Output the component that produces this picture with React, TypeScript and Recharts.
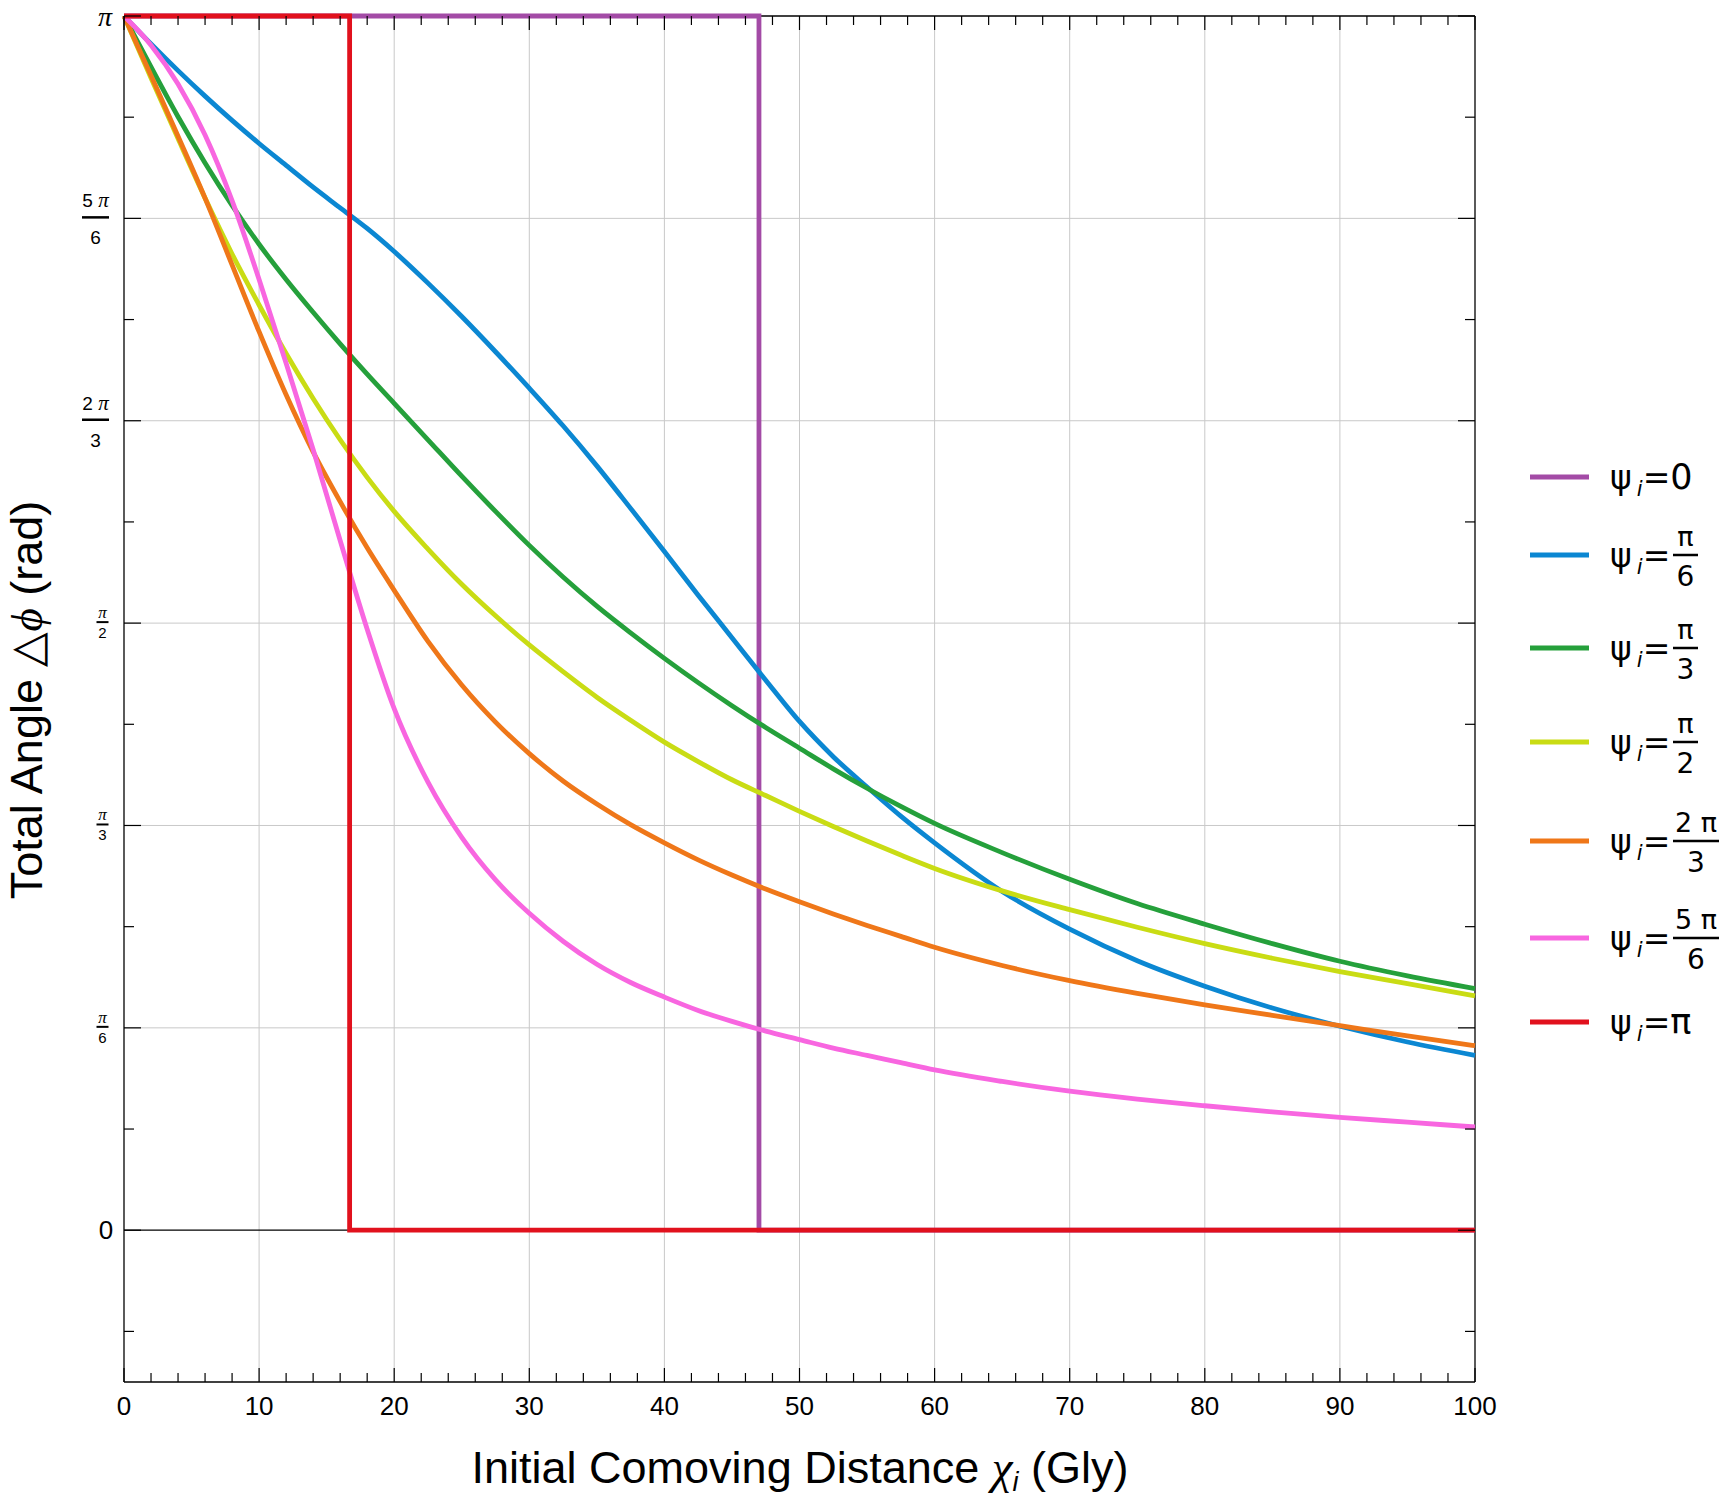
import { LineChart, Line, XAxis, YAxis, CartesianGrid, ReferenceLine } from 'recharts'

// initial comoving distance χ_i (Gly)
const chi = [0, 2, 4, 6, 8, 10, 12, 14, 16, 18, 20, 22.5, 25, 27.5, 30, 32.5, 35, 37.5, 40, 42.5, 45, 47.5, 50, 52.5, 55, 57.5, 60, 65, 70, 75, 80, 85, 90, 95, 100]

// total angle Δφ in units of π
const dphiPi6 = [1.0, 0.977, 0.955, 0.934, 0.914, 0.895, 0.877, 0.859, 0.842, 0.825, 0.806, 0.78, 0.7525, 0.7235, 0.6935, 0.6625, 0.6295, 0.5945, 0.559, 0.523, 0.488, 0.453, 0.419, 0.39, 0.365, 0.341, 0.319, 0.279, 0.248, 0.222, 0.201, 0.183, 0.168, 0.155, 0.144]
const dphiPi3 = [1.0, 0.958, 0.917, 0.879, 0.844, 0.812, 0.783, 0.756, 0.73, 0.705, 0.681, 0.651, 0.621, 0.592, 0.564, 0.538, 0.514, 0.492, 0.471, 0.451, 0.432, 0.414, 0.397, 0.38, 0.364, 0.349, 0.335, 0.311, 0.289, 0.269, 0.252, 0.236, 0.2215, 0.2095, 0.199]
const dphiPi2 = [1.0, 0.949, 0.899, 0.85, 0.804, 0.762, 0.722, 0.685, 0.651, 0.62, 0.592, 0.561, 0.532, 0.506, 0.482, 0.46, 0.439, 0.42, 0.402, 0.386, 0.371, 0.358, 0.345, 0.3325, 0.3205, 0.309, 0.298, 0.2795, 0.264, 0.2495, 0.236, 0.224, 0.213, 0.203, 0.193]
const dphi2Pi3 = [1.0, 0.951, 0.901, 0.85, 0.795, 0.74, 0.688, 0.641, 0.6, 0.562, 0.527, 0.485, 0.449, 0.4185, 0.3925, 0.37, 0.351, 0.334, 0.319, 0.305, 0.2925, 0.281, 0.2705, 0.2605, 0.251, 0.242, 0.233, 0.218, 0.2055, 0.195, 0.1855, 0.177, 0.1685, 0.16, 0.152]
const dphi5Pi6 = [1.0, 0.976, 0.944, 0.902, 0.848, 0.783, 0.714, 0.643, 0.568, 0.495, 0.4295, 0.369, 0.3235, 0.2885, 0.261, 0.238, 0.219, 0.204, 0.192, 0.181, 0.172, 0.164, 0.157, 0.15, 0.144, 0.138, 0.132, 0.1225, 0.1145, 0.108, 0.1025, 0.0975, 0.093, 0.089, 0.085]

// ψ_i = 0 and ψ_i = π jump from π straight down to 0
const stepPsi0Chi = [0, 47, 47, 100]
const stepPsiPiChi = [0, 16.7, 16.7, 100]
const stepDphi = [1, 1, 0, 0]

const seriesLabels = ['0', 'π/6', 'π/3', 'π/2', '2π/3', '5π/6', 'π']
const seriesColors = ['#a34ba6', '#0b87d2', '#25a03b', '#c9dc14', '#ef7719', '#f866e0', '#e1111d']

const xMajorTicks = [0, 10, 20, 30, 40, 50, 60, 70, 80, 90, 100]
const yMajorTicks = [0, 1 / 6, 1 / 3, 1 / 2, 2 / 3, 5 / 6, 1] // × π
const yTickLabels = ['0', 'π/6', 'π/3', 'π/2', '2π/3', '5π/6', 'π']

const W = 1721
const H = 1500
const PLOT = { left: 124, right: 1475, top: 16, bottom: 1382 }
const SANS = '"Liberation Sans", Arial, sans-serif'
const SERIF = '"Liberation Serif", "Times New Roman", serif'
const LEGEND_FONT = '"DejaVu Sans", sans-serif'
const LINE_W = 4.8

const xTicks = Array.from({ length: 51 }, (_, i) => i * 2)
const yTicks = Array.from({ length: 14 }, (_, i) => (i - 1) / 12)
const xGrid = xMajorTicks.slice(1, -1)
const yGrid = yMajorTicks.slice(1, -1)

const curveData = chi.map((c, i) => ({
  chi: c,
  pi6: dphiPi6[i],
  pi3: dphiPi3[i],
  pi2: dphiPi2[i],
  twoPi3: dphi2Pi3[i],
  fivePi6: dphi5Pi6[i],
}))
const psi0Data = stepPsi0Chi.map((c, i) => ({ chi: c, step: stepDphi[i] }))
const psiPiData = stepPsiPiChi.map((c, i) => ({ chi: c, step: stepDphi[i] }))

function XTick(props: any) {
  const { x, y, payload } = props
  const v = payload.value
  const major = xMajorTicks.includes(v)
  const len = major ? 14 : 9
  return (
    <g>
      <line x1={x} x2={x} y1={y} y2={y - len} stroke="#000" strokeWidth={1.2} />
      <line x1={x} x2={x} y1={PLOT.top} y2={PLOT.top + len} stroke="#000" strokeWidth={1.2} />
      {major && (
        <text x={x} y={y + 33} textAnchor="middle" fontSize={26} fontFamily={SANS} fill="#000">
          {v}
        </text>
      )}
    </g>
  )
}

function PiLabel({ label, y }: { label: string; y: number }) {
  if (label === '0') {
    return (
      <text x={106} y={y + 9} textAnchor="middle" fontSize={26} fontFamily={SANS}>
        0
      </text>
    )
  }
  if (label === 'π') {
    return (
      <text x={105} y={y + 10} textAnchor="middle" fontSize={28} fontFamily={SERIF} fontStyle="italic">
        π
      </text>
    )
  }
  const [num, den] = label.split('/')
  const coef = num.replace('π', '')
  const small = coef === ''
  const cx = small ? 102.5 : 95.5
  const half = small ? 6 : 13.5
  const fs = small ? 15 : 19
  return (
    <g fontFamily={SANS}>
      <text x={cx} y={y - (small ? 5 : 11)} textAnchor="middle" fontSize={fs}>
        {coef && <tspan>{coef} </tspan>}
        <tspan fontFamily={SERIF} fontStyle="italic" fontSize={fs + 2}>π</tspan>
      </text>
      <line x1={cx - half} x2={cx + half} y1={y - 1} y2={y - 1} stroke="#000" strokeWidth={small ? 2 : 2.5} />
      <text x={cx} y={y + (small ? 15 : 26)} textAnchor="middle" fontSize={fs}>
        {den}
      </text>
    </g>
  )
}

function YTick(props: any) {
  const { x, y, payload } = props
  const k = Math.round(payload.value * 12)
  const major = k % 2 === 0
  const len = major ? 17 : 10
  return (
    <g>
      <line x1={x} x2={x + len} y1={y} y2={y} stroke="#000" strokeWidth={1.2} />
      <line x1={PLOT.right} x2={PLOT.right - len} y1={y} y2={y} stroke="#000" strokeWidth={1.2} />
      {major && k >= 0 && <PiLabel label={yTickLabels[k / 2]} y={y} />}
    </g>
  )
}

// legend row centres: rows holding a fraction are taller
const legendTop = 477
const legendGaps = [78, 93, 94, 99, 97, 84]
const legendRows = seriesLabels.map((_, i) => legendTop + legendGaps.slice(0, i).reduce((a, b) => a + b, 0))

function LegendRow({ label, color, y }: { label: string; color: string; y: number }) {
  const x = 1610
  const parts = label.split('/')
  const wide = parts.length > 1 && parts[0].length > 1
  const barW = wide ? 46 : 25
  const fx = x + 63
  return (
    <g fontFamily={LEGEND_FONT} fill="#000">
      <line x1={1530} x2={1589} y1={y} y2={y} stroke={color} strokeWidth={5} />
      <text x={x} y={y + 12} fontSize={33}>
        ψ
        <tspan fontSize={21} fontStyle="italic" dx={5} dy={7}>i</tspan>
        <tspan dy={-7}>=</tspan>
        {parts.length === 1 && <tspan fontSize={35}>{label}</tspan>}
      </text>
      {parts.length > 1 && (
        <g>
          <line x1={fx} x2={fx + barW} y1={y} y2={y} stroke="#000" strokeWidth={2.5} />
          <text x={fx + barW / 2} y={y - 9} fontSize={27} textAnchor="middle">
            {wide ? parts[0].replace('π', ' π') : parts[0]}
          </text>
          <text x={fx + barW / 2} y={y + 31} fontSize={28} textAnchor="middle">
            {parts[1]}
          </text>
        </g>
      )}
    </g>
  )
}

export default function App() {
  return (
    <div style={{ position: 'absolute', left: 0, top: 0, width: W, height: H, background: '#fff' }}>
      <LineChart width={W} height={H} data={curveData} margin={{ top: PLOT.top, right: W - PLOT.right, bottom: 0, left: 0 }}>
        <CartesianGrid stroke="#c9c9c9" strokeWidth={1} horizontalValues={yGrid} verticalValues={xGrid} />
        <XAxis
          dataKey="chi"
          type="number"
          domain={[0, 100]}
          ticks={xTicks}
          interval={0}
          height={H - PLOT.bottom}
          tickSize={0}
          tickMargin={0}
          tickLine={false}
          axisLine={{ stroke: '#000', strokeWidth: 1.3 }}
          tick={(p: any) => <XTick {...p} />}
        />
        <YAxis
          type="number"
          domain={[-0.125, 1]}
          ticks={yTicks}
          interval={0}
          width={PLOT.left}
          tickSize={0}
          tickMargin={0}
          tickLine={false}
          axisLine={{ stroke: '#000', strokeWidth: 1.3 }}
          tick={(p: any) => <YTick {...p} />}
        />
        <ReferenceLine y={0} stroke="#000" strokeWidth={1.2} />
        <ReferenceLine y={1} stroke="#000" strokeWidth={1.3} />
        <ReferenceLine x={100} stroke="#000" strokeWidth={1.3} />
        <Line data={psi0Data} dataKey="step" type="linear" stroke={seriesColors[0]} strokeWidth={LINE_W} dot={false} isAnimationActive={false} />
        <Line dataKey="pi6" type="monotone" stroke={seriesColors[1]} strokeWidth={LINE_W} dot={false} isAnimationActive={false} />
        <Line dataKey="pi3" type="monotone" stroke={seriesColors[2]} strokeWidth={LINE_W} dot={false} isAnimationActive={false} />
        <Line dataKey="pi2" type="monotone" stroke={seriesColors[3]} strokeWidth={LINE_W} dot={false} isAnimationActive={false} />
        <Line dataKey="twoPi3" type="monotone" stroke={seriesColors[4]} strokeWidth={LINE_W} dot={false} isAnimationActive={false} />
        <Line dataKey="fivePi6" type="monotone" stroke={seriesColors[5]} strokeWidth={LINE_W} dot={false} isAnimationActive={false} />
        <Line data={psiPiData} dataKey="step" type="linear" stroke={seriesColors[6]} strokeWidth={LINE_W} dot={false} isAnimationActive={false} />
      </LineChart>
      <svg width={W} height={H} style={{ position: 'absolute', left: 0, top: 0, pointerEvents: 'none' }}>
        <text x={800} y={1483} textAnchor="middle" fontSize={45} fontFamily={SANS}>
          Initial Comoving Distance{' '}
          <tspan fontStyle="italic" fontFamily={SERIF} fontSize={47}>χ</tspan>
          <tspan fontStyle="italic" fontSize={27} dy={8}>i</tspan>
          <tspan dy={-8}> (Gly)</tspan>
        </text>
        <text x={42} y={700} textAnchor="middle" fontSize={45} fontFamily={SANS} transform="rotate(-90 42 700)">
          Total Angle △<tspan fontStyle="italic" fontFamily={SERIF}>ϕ</tspan> (rad)
        </text>
        {seriesLabels.map((l, i) => (
          <LegendRow key={l} label={l} color={seriesColors[i]} y={legendRows[i]} />
        ))}
      </svg>
    </div>
  )
}
